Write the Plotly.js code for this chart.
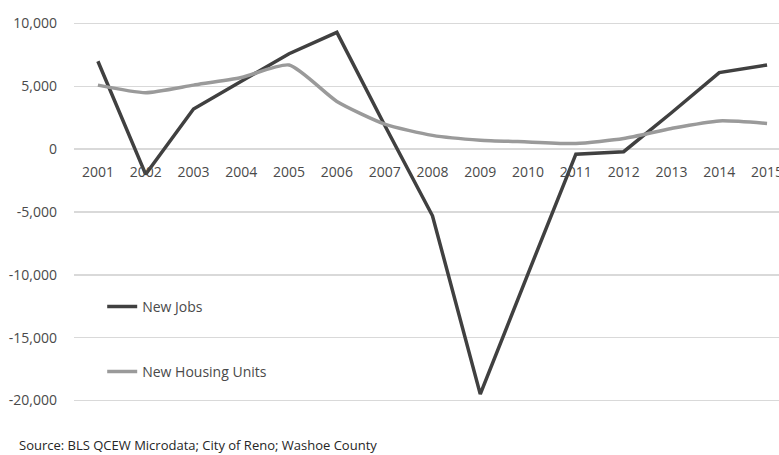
<!DOCTYPE html>
<html>
<head>
<meta charset="utf-8">
<script src="https://cdn.plot.ly/plotly-3.0.1.min.js"></script>
<style>
html,body{margin:0;padding:0;background:#fff;}
#chart{width:779px;height:455px;}
</style>
</head>
<body>
<div id="chart"></div>
<script>
const years = ["2001","2002","2003","2004","2005","2006","2007","2008","2009","2010","2011","2012","2013","2014","2015"];
const newJobs = [7000, -2000, 3200, 5400, 7600, 9300, 1900, -5300, -19500, -9900, -400, -200, 2900, 6100, 6700];
const newHousing = [5100, 4500, 5100, 5700, 6700, 3800, 2000, 1100, 720, 580, 450, 850, 1650, 2250, 2050];
const yTickVals = [10000, 5000, 0, -5000, -10000, -15000, -20000];
const yTickText = ["10,000", "5,000", "0", "-5,000", "-10,000", "-15,000", "-20,000"];
const sourceText = "Source: BLS QCEW Microdata; City of Reno; Washoe County";

const yMin = -21000, yMax = 11000;
const tickFont = {family: "Open Sans, Liberation Sans, sans-serif", size: 14, color: "#4a4a4a"};

const traces = [
  {x: years, y: newJobs, type: "scatter", mode: "lines", name: "New Jobs",
   line: {color: "#404040", width: 3.5}, legend: "legend"},
  {x: years, y: newHousing, type: "scatter", mode: "lines", name: "New Housing Units",
   line: {color: "#9a9a9a", width: 3.5, shape: "spline", smoothing: 0.6}, legend: "legend2"}
];

const layout = {
  width: 779, height: 455,
  margin: {l: 74, r: 0, t: 11, b: 42},
  paper_bgcolor: "#ffffff", plot_bgcolor: "#ffffff",
  showlegend: true,
  xaxis: {
    type: "category", range: [-0.5, 14.25],
    showgrid: false, zeroline: false, showline: false,
    anchor: "free", position: (0 - yMin) / (yMax - yMin),
    ticks: "", ticklabelstandoff: 13, tickfont: tickFont
  },
  yaxis: {
    range: [yMin, yMax],
    tickvals: yTickVals, ticktext: yTickText,
    showgrid: true, gridcolor: "#d9d9d9", gridwidth: 1.5,
    zeroline: true, zerolinecolor: "#d9d9d9", zerolinewidth: 1.5,
    showline: false, ticks: "", ticklabelstandoff: 16, tickfont: tickFont
  },
  legend: {x: 0.04, y: 0.264, xanchor: "left", yanchor: "middle",
           bgcolor: "rgba(0,0,0,0)", font: tickFont, itemwidth: 30},
  legend2: {x: 0.04, y: 0.102, xanchor: "left", yanchor: "middle",
           bgcolor: "rgba(0,0,0,0)", font: tickFont, itemwidth: 30},
  annotations: [{
    text: sourceText, xref: "paper", yref: "paper",
    x: (17 - 74) / 705, y: 0, xanchor: "left", yanchor: "top", yshift: -21,
    showarrow: false,
    font: {family: "Open Sans, Liberation Sans, sans-serif", size: 13, color: "#262626"}
  }]
};

Plotly.newPlot("chart", traces, layout, {displayModeBar: false, staticPlot: true});
</script>
</body>
</html>
